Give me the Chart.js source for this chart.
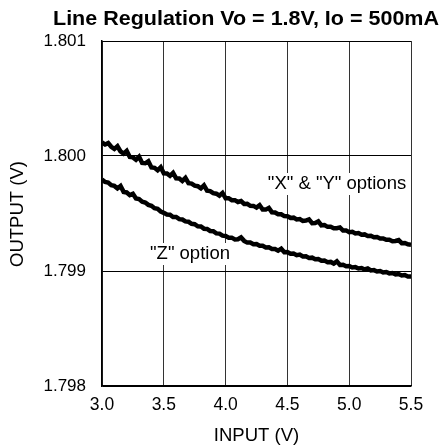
<!DOCTYPE html>
<html>
<head>
<meta charset="utf-8">
<script src="https://cdn.jsdelivr.net/npm/chart.js@4.4.1/dist/chart.umd.min.js"></script>
<style>
  html, body { margin: 0; padding: 0; background: #fff; }
  #wrap { width: 442px; height: 447px; position: relative; }
</style>
</head>
<body>
<div id="wrap"><canvas id="lineChart"></canvas></div>
<script>
// Input voltage samples (V)
const inputV = [
    3.000, 3.025, 3.050, 3.075, 3.100, 3.125, 3.150, 3.175, 3.200, 3.225,
    3.250, 3.275, 3.300, 3.325, 3.350, 3.375, 3.400, 3.425, 3.450, 3.475,
    3.500, 3.525, 3.550, 3.575, 3.600, 3.625, 3.650, 3.675, 3.700, 3.725,
    3.750, 3.775, 3.800, 3.825, 3.850, 3.875, 3.900, 3.925, 3.950, 3.975,
    4.000, 4.025, 4.050, 4.075, 4.100, 4.125, 4.150, 4.175, 4.200, 4.225,
    4.250, 4.275, 4.300, 4.325, 4.350, 4.375, 4.400, 4.425, 4.450, 4.475,
    4.500, 4.525, 4.550, 4.575, 4.600, 4.625, 4.650, 4.675, 4.700, 4.725,
    4.750, 4.775, 4.800, 4.825, 4.850, 4.875, 4.900, 4.925, 4.950, 4.975,
    5.000, 5.025, 5.050, 5.075, 5.100, 5.125, 5.150, 5.175, 5.200, 5.225,
    5.250, 5.275, 5.300, 5.325, 5.350, 5.375, 5.400, 5.425, 5.450, 5.475,
    5.500
];

// "X" & "Y" options output (V)
const outputXY = [
    1.800118, 1.800100, 1.800112, 1.800080, 1.800062, 1.800085, 1.800040, 1.800020, 1.800044, 1.799992,
    1.799988, 1.799968, 1.799994, 1.799940, 1.799937, 1.799955, 1.799901, 1.799897, 1.799876, 1.799902,
    1.799850, 1.799848, 1.799828, 1.799854, 1.799806, 1.799804, 1.799783, 1.799809, 1.799763, 1.799760,
    1.799742, 1.799737, 1.799718, 1.799744, 1.799698, 1.799695, 1.799677, 1.799672, 1.799655, 1.799679,
    1.799632, 1.799633, 1.799616, 1.799616, 1.799600, 1.799608, 1.799583, 1.799584, 1.799567, 1.799566,
    1.799551, 1.799572, 1.799534, 1.799534, 1.799549, 1.799510, 1.799509, 1.799493, 1.799493, 1.799477,
    1.799476, 1.799462, 1.799464, 1.799448, 1.799451, 1.799436, 1.799438, 1.799449, 1.799416, 1.799418,
    1.799432, 1.799397, 1.799399, 1.799384, 1.799385, 1.799372, 1.799372, 1.799379, 1.799352, 1.799353,
    1.799338, 1.799341, 1.799326, 1.799330, 1.799315, 1.799318, 1.799305, 1.799306, 1.799293, 1.799295,
    1.799282, 1.799283, 1.799271, 1.799272, 1.799259, 1.799261, 1.799269, 1.799242, 1.799244, 1.799232,
    1.799229
];

// "Z" option output (V)
const outputZ = [
    1.799795, 1.799774, 1.799769, 1.799746, 1.799740, 1.799718, 1.799739, 1.799688, 1.799683, 1.799660,
    1.799672, 1.799631, 1.799625, 1.799603, 1.799596, 1.799575, 1.799567, 1.799546, 1.799540, 1.799517,
    1.799506, 1.799492, 1.799490, 1.799470, 1.799470, 1.799451, 1.799448, 1.799431, 1.799428, 1.799410,
    1.799407, 1.799389, 1.799387, 1.799368, 1.799366, 1.799348, 1.799346, 1.799327, 1.799325, 1.799307,
    1.799304, 1.799289, 1.799290, 1.799275, 1.799276, 1.799292, 1.799262, 1.799247, 1.799248, 1.799233,
    1.799234, 1.799219, 1.799220, 1.799205, 1.799206, 1.799191, 1.799192, 1.799177, 1.799194, 1.799163,
    1.799164, 1.799150, 1.799152, 1.799138, 1.799143, 1.799127, 1.799128, 1.799114, 1.799116, 1.799102,
    1.799104, 1.799089, 1.799091, 1.799077, 1.799079, 1.799065, 1.799084, 1.799053, 1.799055, 1.799041,
    1.799043, 1.799031, 1.799034, 1.799022, 1.799026, 1.799013, 1.799022, 1.799005, 1.799008, 1.798996,
    1.799000, 1.798987, 1.798991, 1.798979, 1.798982, 1.798970, 1.798974, 1.798961, 1.798965, 1.798952,
    1.798952
];

const xTicks = [3.0, 3.5, 4.0, 4.5, 5.0, 5.5];
const yTicks = [1.798, 1.799, 1.800, 1.801];

const FONT = "'Liberation Sans', Arial, sans-serif";

function toPoints(ys) {
    return inputV.map((x, i) => ({ x: x, y: ys[i] }));
}

// Title, axis titles and curve labels
const textPlugin = {
    id: 'texts',
    afterDatasetsDraw(chart) {
        const ctx = chart.ctx;
        const xs = chart.scales.x;
        ctx.save();
        ctx.fillStyle = '#000';
        ctx.textAlign = 'center';
        ctx.textBaseline = 'middle';

        // title is drawn a little wider than the font, like the original
        const title = 'Line Regulation Vo = 1.8V, Io = 500mA';
        ctx.font = "bold 20px " + FONT;
        const tw = ctx.measureText(title).width;
        ctx.save();
        ctx.translate(246, 19);
        ctx.scale(386 / tw, 1);
        ctx.fillText(title, 0, 0);
        ctx.restore();

        ctx.font = "18.5px " + FONT;
        ctx.fillText('INPUT (V)', xs.getPixelForValue(4.25), 436);

        ctx.save();
        ctx.translate(18, 214);
        ctx.rotate(-Math.PI / 2);
        ctx.fillText('OUTPUT (V)', 0, 0);
        ctx.restore();

        // curve labels with white background
        const labels = [
            { text: '"X" & "Y" options', x: 337, y: 184 },
            { text: '"Z" option', x: 190, y: 254 }
        ];
        labels.forEach(l => {
            const w = ctx.measureText(l.text).width;
            ctx.fillStyle = '#fff';
            ctx.fillRect(l.x - w / 2 - 2, l.y - 11, w + 4, 22);
            ctx.fillStyle = '#000';
            ctx.fillText(l.text, l.x, l.y);
        });
        ctx.restore();
    }
};

new Chart(document.getElementById('lineChart').getContext('2d'), {
    type: 'line',
    data: {
        datasets: [
            {
                label: '"X" & "Y" options',
                data: toPoints(outputXY),
                borderColor: '#000',
                borderWidth: 4.5,
                pointRadius: 0,
                tension: 0
            },
            {
                label: '"Z" option',
                data: toPoints(outputZ),
                borderColor: '#000',
                borderWidth: 4.5,
                pointRadius: 0,
                tension: 0
            }
        ]
    },
    options: {
        responsive: true,
        maintainAspectRatio: false,
        animation: false,
        layout: { padding: { left: 0, top: 41, right: 31, bottom: 0 } },
        plugins: {
            legend: { display: false },
            tooltip: { enabled: false }
        },
        scales: {
            x: {
                type: 'linear',
                min: xTicks[0],
                max: xTicks[xTicks.length - 1],
                afterBuildTicks: s => { s.ticks = xTicks.map(v => ({ value: v })); },
                afterFit: s => { s.height = 61; },
                grid: { color: '#333', lineWidth: 1, drawTicks: false },
                border: { color: '#000', width: 1.5 },
                ticks: {
                    color: '#000',
                    padding: 9,
                    font: { family: FONT, size: 17.5 },
                    callback: v => v.toFixed(1)
                }
            },
            y: {
                min: yTicks[0],
                max: yTicks[yTicks.length - 1],
                afterBuildTicks: s => { s.ticks = yTicks.map(v => ({ value: v })); },
                afterFit: s => { s.width = 102; },
                grid: { color: '#000', lineWidth: 1, drawTicks: false },
                border: { color: '#000', width: 1.5 },
                ticks: {
                    color: '#000',
                    padding: 16,
                    font: { family: FONT, size: 17 },
                    callback: v => v.toFixed(3)
                }
            }
        }
    },
    plugins: [textPlugin]
});
</script>
</body>
</html>
